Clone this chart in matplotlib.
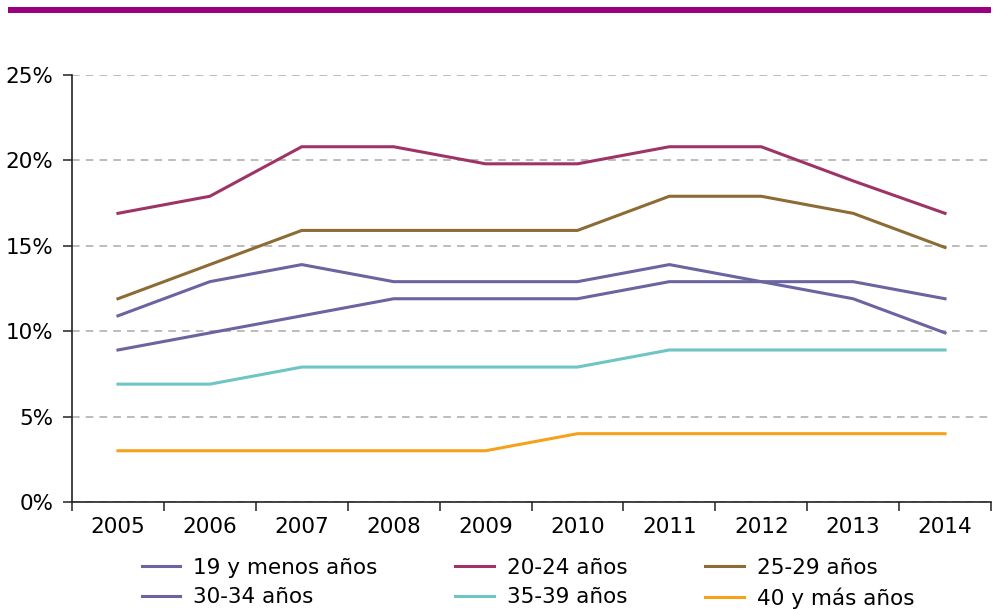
import matplotlib.pyplot as plt
from matplotlib.patches import Rectangle
from matplotlib.ticker import FixedLocator

# Data (percent)
years = ["2005", "2006", "2007", "2008", "2009", "2010", "2011", "2012", "2013", "2014"]
menos19 = [10.9, 12.9, 13.9, 12.9, 12.9, 12.9, 13.9, 12.9, 11.9, 9.9]
a20_24 = [16.9, 17.9, 20.8, 20.8, 19.8, 19.8, 20.8, 20.8, 18.8, 16.9]
a25_29 = [11.9, 13.9, 15.9, 15.9, 15.9, 15.9, 17.9, 17.9, 16.9, 14.9]
a30_34 = [8.9, 9.9, 10.9, 11.9, 11.9, 11.9, 12.9, 12.9, 12.9, 11.9]
a35_39 = [6.9, 6.9, 7.9, 7.9, 7.9, 7.9, 8.9, 8.9, 8.9, 8.9]
mas40 = [3.0, 3.0, 3.0, 3.0, 3.0, 4.0, 4.0, 4.0, 4.0, 4.0]
y_ticks = [0, 5, 10, 15, 20, 25]

plt.rcParams['font.family'] = ['DejaVu Sans']
plt.rcParams['font.size'] = 15.5

fig = plt.figure(figsize=(9.94, 6.09), dpi=100)
ax = fig.add_axes([72/994, 107/609, 919/994, 427/609])

# purple band at the top
fig.add_artist(Rectangle((8/994, (609-13)/609), 983/994, 5.5/609,
                         transform=fig.transFigure, color="#990080", lw=0))

x = list(range(len(years)))
lw = 2.2
l1, = ax.plot(x, menos19, color="#6A65A0", lw=lw, label="19 y menos años")
l2, = ax.plot(x, a20_24, color="#9E3466", lw=lw, label="20-24 años")
l3, = ax.plot(x, a25_29, color="#8C6B34", lw=lw, label="25-29 años")
l4, = ax.plot(x, a30_34, color="#6A65A0", lw=lw, label="30-34 años")
l5, = ax.plot(x, a35_39, color="#6FC4C4", lw=lw, label="35-39 años")
l6, = ax.plot(x, mas40, color="#F6A11B", lw=lw, label="40 y más años")

ax.set_xlim(-0.5, len(years) - 0.5)
ax.set_ylim(0, 25)

ax.set_xticks(x)
ax.set_xticklabels(years)
ax.xaxis.set_minor_locator(FixedLocator([i - 0.5 for i in range(len(years) + 1)]))
ax.tick_params(axis="x", which="major", length=0, pad=11)
ax.tick_params(axis="x", which="minor", length=6.5, width=1.1, color="#222222")

ax.set_yticks(y_ticks)
ax.set_yticklabels([f"{v}%" for v in y_ticks])
ax.tick_params(axis="y", length=6.5, width=1.1, pad=7, color="#222222")

ax.yaxis.grid(True, linestyle=(0, (5, 4)), color="#AAAAAA", lw=1.1)
ax.set_axisbelow(True)

for s in ["top", "right"]:
    ax.spines[s].set_visible(False)
ax.spines["left"].set_color("#222222")
ax.spines["bottom"].set_color("#222222")
ax.spines["left"].set_linewidth(1.2)
ax.spines["bottom"].set_linewidth(1.2)

handles = [l1, l4, l2, l5, l3, l6]
fig.legend(handles, [h.get_label() for h in handles], ncol=3, frameon=False,
           loc="center", bbox_to_anchor=(0.531, 0.0425),
           handlelength=1.8, handletextpad=0.6, columnspacing=3.6,
           labelspacing=0.45, borderpad=0)

fig.savefig("out.png", dpi=100)
